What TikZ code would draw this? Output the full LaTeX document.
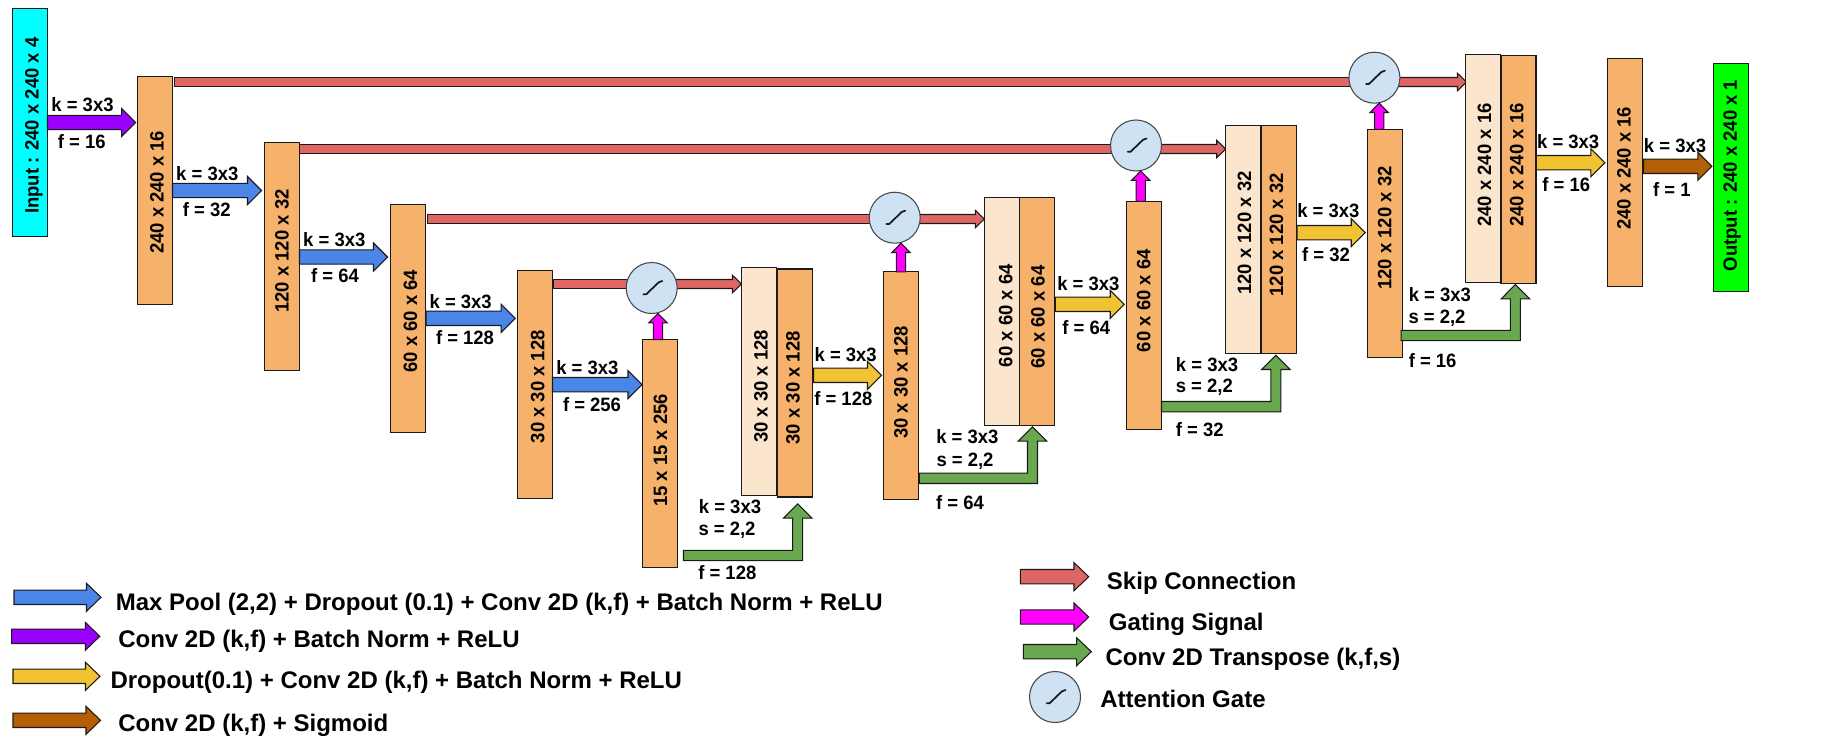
\documentclass[tikz,border=0pt]{standalone}
\usepackage{fontspec}
\setmainfont{Liberation Sans}
\newfontfamily\labelfont{Liberation Sans}[FakeStretch=0.955]
\usetikzlibrary{calc,backgrounds}
\definecolor{cOrange}{HTML}{F6B26B}
\definecolor{cLight}{HTML}{FCE5CD}
\definecolor{cBlue}{HTML}{4A86E8}
\definecolor{cPurple}{HTML}{9900FF}
\definecolor{cYellow}{HTML}{F1C232}
\definecolor{cBrown}{HTML}{B45F06}
\definecolor{cRed}{HTML}{E06666}
\definecolor{cMagenta}{HTML}{FF00FF}
\definecolor{cGreen}{HTML}{6AA84F}
\definecolor{cCyan}{HTML}{00FFFF}
\definecolor{cLime}{HTML}{00FF00}
\definecolor{cGate}{HTML}{CFE2F3}
\definecolor{cEdge}{HTML}{1A1A1A}
\tikzset{
  edge/.style={draw=cEdge,line width=0.8pt,line join=miter},
  blockbox/.style={draw=cEdge,line width=0.8pt,inner sep=0pt,outer sep=0pt,
    minimum width=35*0.75pt,minimum height=228*0.75pt},
  gatecirc/.style={circle,draw=cEdge!80,line width=0.8pt,fill=cGate,inner sep=0pt,outer sep=0pt,
    minimum size=51*0.75pt},
  dimtext/.style={rotate=90,anchor=base,inner sep=0pt,font=\labelfont\fontsize{14.5pt}{16pt}\selectfont\bfseries},
  smalltext/.style={anchor=base,inner sep=0pt,font=\labelfont\fontsize{14.5pt}{16pt}\selectfont\bfseries},
  legendtext/.style={anchor=base west,inner sep=0pt,font=\fontsize{18pt}{20pt}\selectfont\bfseries},
}
% block: name, fill, centre x, centre y, text, text centre x, text centre y
\newcommand\blk[7]{%
  \node[blockbox,fill=#2] (#1) at (#3,#4) {};
  \node[dimtext] (#1t) at (#6+7,#7) {#5};
}
% labelled small text: name, x, y(centre of caps), text
\newcommand\lab[4]{\node[smalltext] (#1) at (#2,#3+6.9) {#4};}
% legend text: name, left x, y(centre of caps), text
\newcommand\leg[4]{\node[legendtext] (#1) at (#2,#3+8.5) {#4};}
% generic horizontal arrow polygon
\newcommand\poly[6]{% fill, half shaft, half head, head length, start, tip
  \path #5 coordinate (S) #6 coordinate (T);
  \draw[edge,fill=#1] ($(S)+(0,-#2)$) -- ($(T)+(-#4,-#2)$) -- ($(T)+(-#4,-#3)$) -- (T)
    -- ($(T)+(-#4,#3)$) -- ($(T)+(-#4,#2)$) -- ($(S)+(0,#2)$) -- cycle;
}
% thick arrow between nodes: fill, from, to, y, start gap, tip offset
\newcommand\harrow[6]{\poly{#1}{7.2}{14}{14}{($(#2.east |- 0,#4)+(#5,0)$)}{($(#3.west |- 0,#4)+(#6,0)$)}}
% skip shaft without head: from, gate, y, gap
\newcommand\skipbar[4]{%
  \path ($(#1.east |- 0,#3)+(#4,0)$) coordinate (S) (#2.center |- 0,#3) coordinate (T);
  \draw[edge,fill=cRed] ($(S)+(0,-4.5)$) rectangle ($(T)+(0,4.5)$);
}
% skip arrow: gate, to, y, tip offset
\newcommand\skiparrow[4]{\poly{cRed}{4.5}{8.7}{9}{(#1.center |- 0,#3)}{($(#2.west |- 0,#3)+(#4,0)$)}}
% gating arrow: block, gate, dx
\newcommand\gating[3]{%
  \path ($(#1.north)+(#3,0)$) coordinate (S) (S |- #2.south) coordinate (T);
  \draw[edge,fill=cMagenta] ($(S)+(-4.6,0)$) -- ($(T)+(-4.6,9.3)$) -- ($(T)+(-9.2,9.3)$) -- (T)
    -- ($(T)+(9.2,9.3)$) -- ($(T)+(4.6,9.3)$) -- ($(S)+(4.6,0)$) -- cycle;
}
% elbow transposed-conv arrow: from, to, y, start gap, tip dx, tip dy
\newcommand\elbow[6]{%
  \path ($(#1.east |- 0,#3)+(#4,0)$) coordinate (S) ($(#2.south)+(#5,#6)$) coordinate (T) (T |- S) coordinate (K);
  \draw[edge,fill=cGreen] ($(S)+(0,-5.2)$) -- ($(K)+(-5,-5.2)$) -- ($(T)+(-5,14.3)$) -- ($(T)+(-14.2,14.3)$) -- (T)
    -- ($(T)+(14.2,14.3)$) -- ($(T)+(5,14.3)$) -- ($(K)+(5,5.2)$) -- ($(S)+(0,5.2)$) -- cycle;
}
% S-curve in a gate
\newcommand\scurve[1]{%
  \draw[line width=1.3pt,line cap=round,line join=round,cEdge]
    ($(#1)+(-8.3,6.3)$) -- ($(#1)+(-5.5,6.3)$) -- ($(#1)+(7,-5.7)$) -- ($(#1)+(10.5,-7)$);
}
\begin{document}
\begin{tikzpicture}[x=0.75pt,y=-0.75pt]
\useasboundingbox (0,0) rectangle (1840,740);

% blocks
\blk{inp}{cCyan}{30}{122.3}{Input : 240 x 240 x 4}{31.7}{125.7}
\blk{e1}{cOrange}{155}{190.2}{240 x 240 x 16}{156.7}{192.3}
\blk{e2}{cOrange}{282}{256.8}{120 x 120 x 32}{281.7}{251}
\blk{e3}{cOrange}{408}{318.5}{60 x 60 x 64}{410}{321.3}
\blk{e4}{cOrange}{535}{384.6}{30 x 30 x 128}{537.3}{386.7}
\blk{e5}{cOrange}{660}{453.7}{15 x 15 x 256}{660}{450.3}
\blk{c4l}{cLight}{759}{381.8}{30 x 30 x 128}{760.7}{386.3}
\blk{c4r}{cOrange}{795}{383}{30 x 30 x 128}{792.7}{387.8}
\blk{d4}{cOrange}{901}{385.8}{30 x 30 x 128}{900.7}{382.3}
\blk{c3l}{cLight}{1001.8}{311.3}{60 x 60 x 64}{1005.3}{315.7}
\blk{c3r}{cOrange}{1037}{311.8}{60 x 60 x 64}{1037.7}{317}
\blk{d3}{cOrange}{1144}{315.3}{60 x 60 x 64}{1143.3}{300.7}
\blk{c2l}{cLight}{1243.2}{239.8}{120 x 120 x 32}{1244}{233}
\blk{c2r}{cOrange}{1279.2}{239.8}{120 x 120 x 32}{1276}{234.7}
\blk{d2}{cOrange}{1385}{243.3}{120 x 120 x 32}{1384.4}{228}
\blk{c1l}{cLight}{1483}{168.6}{240 x 240 x 16}{1484.2}{165}
\blk{c1r}{cOrange}{1518.5}{169.2}{240 x 240 x 16}{1516.3}{165}
\blk{d1}{cOrange}{1625}{172.8}{240 x 240 x 16}{1623.7}{168.3}
\blk{outp}{cLime}{1731}{177.8}{Output : 240 x 240 x 1}{1729.8}{175.5}

% gates
\node[gatecirc] (g4) at (651.7,288) {};
\node[gatecirc] (g3) at (894.7,217.7) {};
\node[gatecirc] (g2) at (1136,145.5) {};
\node[gatecirc] (g1) at (1374.4,77.7) {};
\scurve{g4}\scurve{g3}\scurve{g2}\scurve{g1}

% skip connections
\begin{scope}[on background layer]
  \skipbar{e1}{g1}{82}{2}
  \skiparrow{g1}{c1l}{82}{1}
  \skipbar{e2}{g2}{149}{0}
  \skiparrow{g2}{c2l}{149}{0}
  \skipbar{e3}{g3}{219}{2}
  \skiparrow{g3}{c3l}{219}{0}
  \skipbar{e4}{g4}{284}{1}
  \skiparrow{g4}{c4l}{284}{0}
\end{scope}

% gating signals
\gating{e5}{g4}{-2}
\gating{d4}{g3}{0}
\gating{d3}{g2}{-3.3}
\gating{d2}{g1}{-5.8}

% encoder arrows
\harrow{cPurple}{inp}{e1}{122.5}{0}{-1.8}
\harrow{cBlue}{e1}{e2}{190.5}{0}{-3}
\harrow{cBlue}{e2}{e3}{257}{0}{-3}
\harrow{cBlue}{e3}{e4}{318.3}{0.5}{-2.3}
\harrow{cBlue}{e4}{e5}{384.7}{0}{-0.5}

% decoder arrows
\harrow{cYellow}{c4r}{d4}{375.3}{1}{-2}
\harrow{cYellow}{c3r}{d3}{304.3}{0.8}{-2.3}
\harrow{cYellow}{c2r}{d2}{232.7}{0.3}{-2.3}
\harrow{cYellow}{c1r}{d1}{162.7}{0.3}{-2.7}
\harrow{cBrown}{d1}{outp}{166.3}{1.1}{-1.7}

% transpose convolutions
\elbow{e5}{c4r}{555.5}{6}{2.7}{6.8}
\elbow{d4}{c3r}{478.3}{0.8}{-4.5}{1}
\elbow{d3}{c2r}{406.7}{0}{-3.3}{1.4}
\elbow{d2}{c1r}{335.5}{-1.4}{-3.1}{1.3}

% small labels
\lab{l1}{82.5}{105}{k = 3x3}
\lab{l2}{81.7}{141.3}{f = 16}
\lab{l3}{207.3}{173.3}{k = 3x3}
\lab{l4}{206.7}{209.3}{f = 32}
\lab{l5}{334.3}{240}{k = 3x3}
\lab{l6}{335}{276}{f = 64}
\lab{l7}{460.7}{301.3}{k = 3x3}
\lab{l8}{465}{337.3}{f = 128}
\lab{l9}{587.3}{367.7}{k = 3x3}
\lab{l10}{592}{405}{f = 256}
\lab{l11}{845.7}{354.3}{k = 3x3}
\lab{l12}{843.3}{398.3}{f = 128}
\lab{l13}{730}{506.7}{k = 3x3}
\lab{l14}{727}{528.7}{s = 2,2}
\lab{l15}{727.3}{572.7}{f = 128}
\lab{l16}{967.3}{437}{k = 3x3}
\lab{l17}{965}{459.3}{s = 2,2}
\lab{l18}{960}{502.7}{f = 64}
\lab{l19}{1088.3}{284}{k = 3x3}
\lab{l20}{1086.3}{327.7}{f = 64}
\lab{l21}{1207}{364.3}{k = 3x3}
\lab{l22}{1204.3}{386}{s = 2,2}
\lab{l23}{1199.7}{430}{f = 32}
\lab{l24}{1328.3}{211}{k = 3x3}
\lab{l25}{1326}{254.3}{f = 32}
\lab{l26}{1439.8}{295}{k = 3x3}
\lab{l27}{1437}{316.7}{s = 2,2}
\lab{l28}{1432.6}{360.7}{f = 16}
\lab{l29}{1568.2}{141.3}{k = 3x3}
\lab{l30}{1566.2}{185}{f = 16}
\lab{l31}{1675}{145.3}{k = 3x3}
\lab{l32}{1671.9}{189.3}{f = 1}

% legend, left
\coordinate (la) at (14,597.3);   \coordinate (lae) at (101,597.3);
\coordinate (lb) at (11.7,636.3); \coordinate (lbe) at (99.8,636.3);
\coordinate (lc) at (13,676.3);   \coordinate (lce) at (100,676.3);
\coordinate (ld) at (13,720.3);   \coordinate (lde) at (100.5,720.3);
\poly{cBlue}{7.2}{14}{14.5}{(la)}{(lae)}
\poly{cPurple}{7.2}{14}{14.5}{(lb)}{(lbe)}
\poly{cYellow}{7.2}{14}{14.5}{(lc)}{(lce)}
\poly{cBrown}{7.2}{14}{14.5}{(ld)}{(lde)}
\leg{ta}{115.6}{602}{Max Pool (2,2) + Dropout (0.1) + Conv 2D (k,f) + Batch Norm + ReLU}
\leg{tb}{118}{639.3}{Conv 2D (k,f) + Batch Norm + ReLU}
\leg{tc}{110.3}{680}{Dropout(0.1) + Conv 2D (k,f) + Batch Norm + ReLU}
\leg{td}{118}{723.3}{Conv 2D (k,f) + Sigmoid}

% legend, right
\coordinate (lf) at (1020.3,576.7); \coordinate (lfe) at (1088.7,576.7);
\coordinate (lg) at (1020.3,617);   \coordinate (lge) at (1088.7,617);
\coordinate (lh) at (1023.3,651.7); \coordinate (lhe) at (1091.3,651.7);
\poly{cRed}{7.2}{14}{14.7}{(lf)}{(lfe)}
\poly{cMagenta}{7.2}{14}{14.7}{(lg)}{(lge)}
\poly{cGreen}{7.2}{14}{14.7}{(lh)}{(lhe)}
\node[gatecirc] (lgate) at (1055,697) {};
\scurve{lgate}
\leg{tf}{1106.7}{580.7}{Skip Connection}
\leg{tg}{1108.7}{622}{Gating Signal}
\leg{th}{1105.3}{656.7}{Conv 2D Transpose (k,f,s)}
\leg{ti}{1100}{699}{Attention Gate}
\end{tikzpicture}
\end{document}
